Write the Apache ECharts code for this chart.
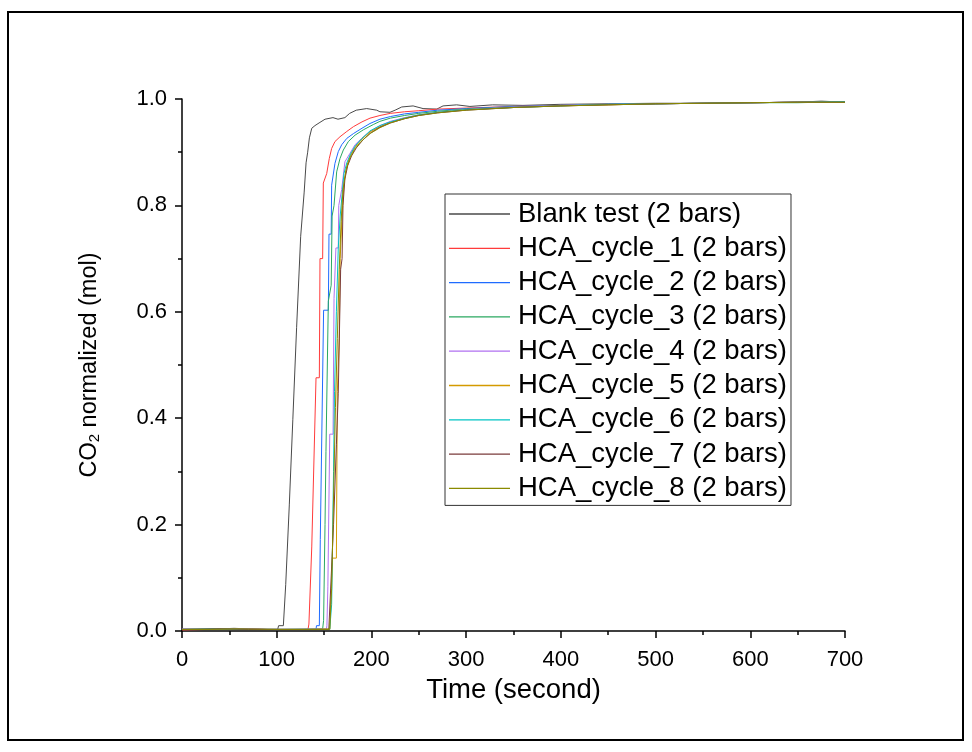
<!DOCTYPE html>
<html>
<head>
<meta charset="utf-8">
<script src="https://cdn.jsdelivr.net/npm/echarts@6/dist/echarts.min.js"></script>
<style>
html,body{margin:0;padding:0;background:#fff;}
#chart{width:972px;height:752px;}
</style>
</head>
<body>
<div id="chart"></div>
<script>
const seriesNames = ['Blank test (2 bars)','HCA_cycle_1 (2 bars)','HCA_cycle_2 (2 bars)','HCA_cycle_3 (2 bars)','HCA_cycle_4 (2 bars)','HCA_cycle_5 (2 bars)','HCA_cycle_6 (2 bars)','HCA_cycle_7 (2 bars)','HCA_cycle_8 (2 bars)'];
const xTicks = [0,100,200,300,400,500,600,700];
const yTicks = [0.0,0.2,0.4,0.6,0.8,1.0];

const blank = [[0,0.003],[20,0.003],[40,0.004],[55,0.005],[70,0.004],[90,0.003],[101,0.003],[102,0.01],[107,0.01],[109.5,0.087],[113.3,0.237],[115,0.237],[117,0.397],[118.6,0.397],[121,0.57],[123,0.57],[125.3,0.742],[127,0.742],[129,0.825],[131,0.88],[132.7,0.9],[134.5,0.927],[137,0.945],[140.4,0.95],[144.7,0.955],[151,0.962],[159.4,0.965],[164.7,0.962],[172,0.965],[177,0.973],[184,0.979],[195,0.982],[205.6,0.979],[209,0.976],[219.6,0.975],[225,0.979],[232,0.985],[244,0.987],[254.5,0.982],[269,0.981],[275.6,0.987],[290,0.989],[304,0.986],[328,0.989],[360,0.988],[400,0.99],[450,0.991],[500,0.992],[550,0.992],[600,0.993],[650,0.994],[675,0.996],[700,0.994]];
const cycle1 = [[0,0.002],[30,0.003],[50,0.003],[70,0.004],[90,0.003],[120,0.003],[133,0.003],[134,0.013],[136,0.013],[137,0.158],[138.7,0.158],[141.5,0.476],[145,0.476],[145.7,0.70],[148.5,0.70],[149.2,0.842],[152.8,0.86],[155.5,0.888],[158,0.907],[161.5,0.92],[166.8,0.929],[174,0.939],[181,0.948],[190,0.957],[198.5,0.964],[209,0.969],[220,0.973],[235,0.976],[250,0.978],[270,0.981],[300,0.983],[350,0.986],[400,0.988],[450,0.99],[500,0.991],[550,0.992],[600,0.993],[650,0.994],[700,0.995]];
const cycle2 = [[0,0.003],[30,0.003],[50,0.004],[80,0.003],[110,0.003],[141.5,0.003],[142,0.01],[145,0.01],[146,0.172],[148,0.172],[149.5,0.603],[154.5,0.603],[155.2,0.746],[157.5,0.746],[158,0.838],[161.5,0.879],[165,0.901],[168.6,0.914],[174,0.926],[181,0.935],[190,0.945],[198.5,0.954],[209,0.962],[220,0.967],[235,0.972],[250,0.975],[270,0.979],[300,0.982],[350,0.986],[400,0.988],[450,0.99],[500,0.991],[550,0.992],[600,0.993],[650,0.994],[700,0.994]];
const cycle3 = [[0,0.003],[25,0.003],[45,0.004],[75,0.003],[110,0.003],[148.5,0.004],[149.5,0.02],[151,0.2],[152,0.337],[153.5,0.337],[154.5,0.62],[157.5,0.65],[158.5,0.78],[160.5,0.80],[163.3,0.863],[166.8,0.888],[170.3,0.904],[175.6,0.92],[182.7,0.932],[191.4,0.942],[202,0.952],[209,0.958],[220,0.964],[235,0.969],[250,0.973],[270,0.977],[300,0.981],[350,0.985],[400,0.988],[450,0.99],[500,0.991],[550,0.992],[600,0.993],[650,0.993],[700,0.995]];
const cycle4 = [[0,0.004],[30,0.003],[60,0.004],[90,0.003],[120,0.003],[152.5,0.004],[153,0.01],[154,0.083],[155.5,0.083],[156,0.37],[159.5,0.37],[160.5,0.625],[162,0.625],[162.5,0.72],[165,0.72],[165.5,0.80],[168.6,0.83],[172,0.882],[177.4,0.898],[182.7,0.914],[189.7,0.926],[198.5,0.939],[209,0.95],[220,0.958],[235,0.965],[250,0.97],[270,0.975],[300,0.98],[350,0.985],[400,0.988],[450,0.99],[500,0.991],[550,0.992],[600,0.993],[650,0.994],[700,0.994]];
const cycle5 = [[0,0.003],[35,0.004],[65,0.003],[100,0.003],[130,0.003],[156,0.004],[158.8,0.137],[163,0.137],[164,0.45],[166,0.55],[167,0.7],[169,0.78],[171,0.84],[174,0.875],[178,0.895],[183,0.91],[190,0.925],[198.5,0.938],[209,0.948],[220,0.956],[235,0.964],[250,0.97],[270,0.975],[300,0.98],[350,0.984],[400,0.987],[450,0.989],[500,0.991],[550,0.992],[600,0.993],[650,0.994],[700,0.994]];
const cycle6 = [[0,0.003],[30,0.004],[60,0.003],[100,0.003],[130,0.003],[156,0.003],[158,0.05],[160,0.3],[161,0.45],[163,0.6],[165,0.72],[167,0.78],[169,0.82],[171,0.86],[174,0.88],[178,0.897],[183,0.912],[190,0.926],[198.5,0.94],[209,0.95],[220,0.957],[235,0.964],[250,0.97],[270,0.975],[300,0.98],[350,0.984],[400,0.987],[450,0.99],[500,0.991],[550,0.992],[600,0.993],[650,0.994],[700,0.995]];
const cycle7 = [[0,0.003],[40,0.004],[70,0.003],[100,0.003],[130,0.003],[155,0.003],[157,0.005],[158.5,0.14],[160,0.2],[163,0.35],[165,0.447],[166.8,0.447],[167.5,0.68],[169,0.70],[170,0.8],[172,0.85],[175,0.875],[179,0.893],[184,0.908],[191,0.923],[199,0.936],[209,0.947],[220,0.955],[235,0.963],[250,0.969],[270,0.974],[300,0.979],[350,0.984],[400,0.987],[450,0.989],[500,0.991],[550,0.992],[600,0.993],[650,0.994],[700,0.994]];
const cycle8 = [[0,0.003],[30,0.003],[60,0.004],[100,0.003],[130,0.003],[156,0.003],[158,0.08],[160,0.25],[162,0.42],[164,0.55],[166,0.68],[168,0.77],[170,0.83],[173,0.865],[177,0.888],[182,0.905],[189,0.92],[198.5,0.935],[209,0.946],[220,0.955],[235,0.963],[250,0.969],[270,0.974],[300,0.979],[350,0.984],[400,0.987],[450,0.989],[500,0.991],[550,0.992],[600,0.993],[650,0.994],[700,0.994]];

const allData = [blank,cycle1,cycle2,cycle3,cycle4,cycle5,cycle6,cycle7,cycle8];
const colors = ['#4a4a4a','#ff3b3b','#1f6bff','#2aa860','#b070f0','#d49a00','#00c4c4','#7a3b3b','#8a8a00'];

const chart = echarts.init(document.getElementById('chart'), null, {renderer:'canvas'});
const font = 'Liberation Sans, Arial, sans-serif';
chart.setOption({
  animation:false,
  backgroundColor:'#fff',
  textStyle:{fontFamily:font},
  graphic:[{type:'rect',shape:{x:8,y:12,width:955,height:728},style:{fill:'none',stroke:'#000',lineWidth:2},silent:true}],
  grid:{left:182,right:127,top:99,bottom:121,containLabel:false},
  legend:{
    orient:'vertical', left:445, top:194,
    data:seriesNames.map((n,i)=>({name:n,icon:'rect',itemStyle:{color:colors[i],borderWidth:0,opacity:1}})),
    borderColor:'#333', borderWidth:1, borderRadius:0,
    padding:[6,4,3,4],
    itemWidth:61, itemHeight:1.3, itemGap:6.3,
    textStyle:{fontSize:27.5, lineHeight:27, color:'#000', fontFamily:font, padding:[0,0,0,3]}
  },
  xAxis:{
    type:'value', min:0, max:700, interval:100,
    name:'Time (second)', nameLocation:'middle', nameGap:45,
    nameTextStyle:{fontSize:27.5,color:'#000',fontFamily:font},
    axisLine:{show:true,lineStyle:{color:'#000',width:1.5}},
    axisTick:{show:true,inside:false,length:7,lineStyle:{color:'#000',width:1.5}},
    minorTick:{show:true,splitNumber:2,length:4,lineStyle:{color:'#000',width:1.5}},
    splitLine:{show:false},
    axisLabel:{fontSize:22,color:'#000',margin:18,fontFamily:font,formatter:v=>xTicks.includes(v)?String(v):''}
  },
  yAxis:{
    type:'value', min:0, max:1, interval:0.2,
    name:'CO{sub|2} normalized (mol)', nameLocation:'middle', nameGap:80, nameRotate:90,
    nameTextStyle:{fontSize:23.5,color:'#000',fontFamily:font,rich:{sub:{fontSize:15,color:'#000',fontFamily:font,padding:[10,0,0,0]}}},
    axisLine:{show:true,lineStyle:{color:'#000',width:1.5}},
    axisTick:{show:true,inside:false,length:7,lineStyle:{color:'#000',width:1.5}},
    minorTick:{show:true,splitNumber:2,length:4,lineStyle:{color:'#000',width:1.5}},
    splitLine:{show:false},
    axisLabel:{fontSize:22,color:'#000',margin:15,fontFamily:font,formatter:v=>{const t=yTicks.find(y=>Math.abs(y-v)<1e-9);return t===undefined?'':t.toFixed(1);}}
  },
  series: allData.map((d,i)=>({
    name:seriesNames[i], type:'line', data:d, symbol:'none', showSymbol:false,
    lineStyle:{color:colors[i],width:1}, itemStyle:{color:colors[i]},
    z:2+i
  }))
});
</script>
</body>
</html>
